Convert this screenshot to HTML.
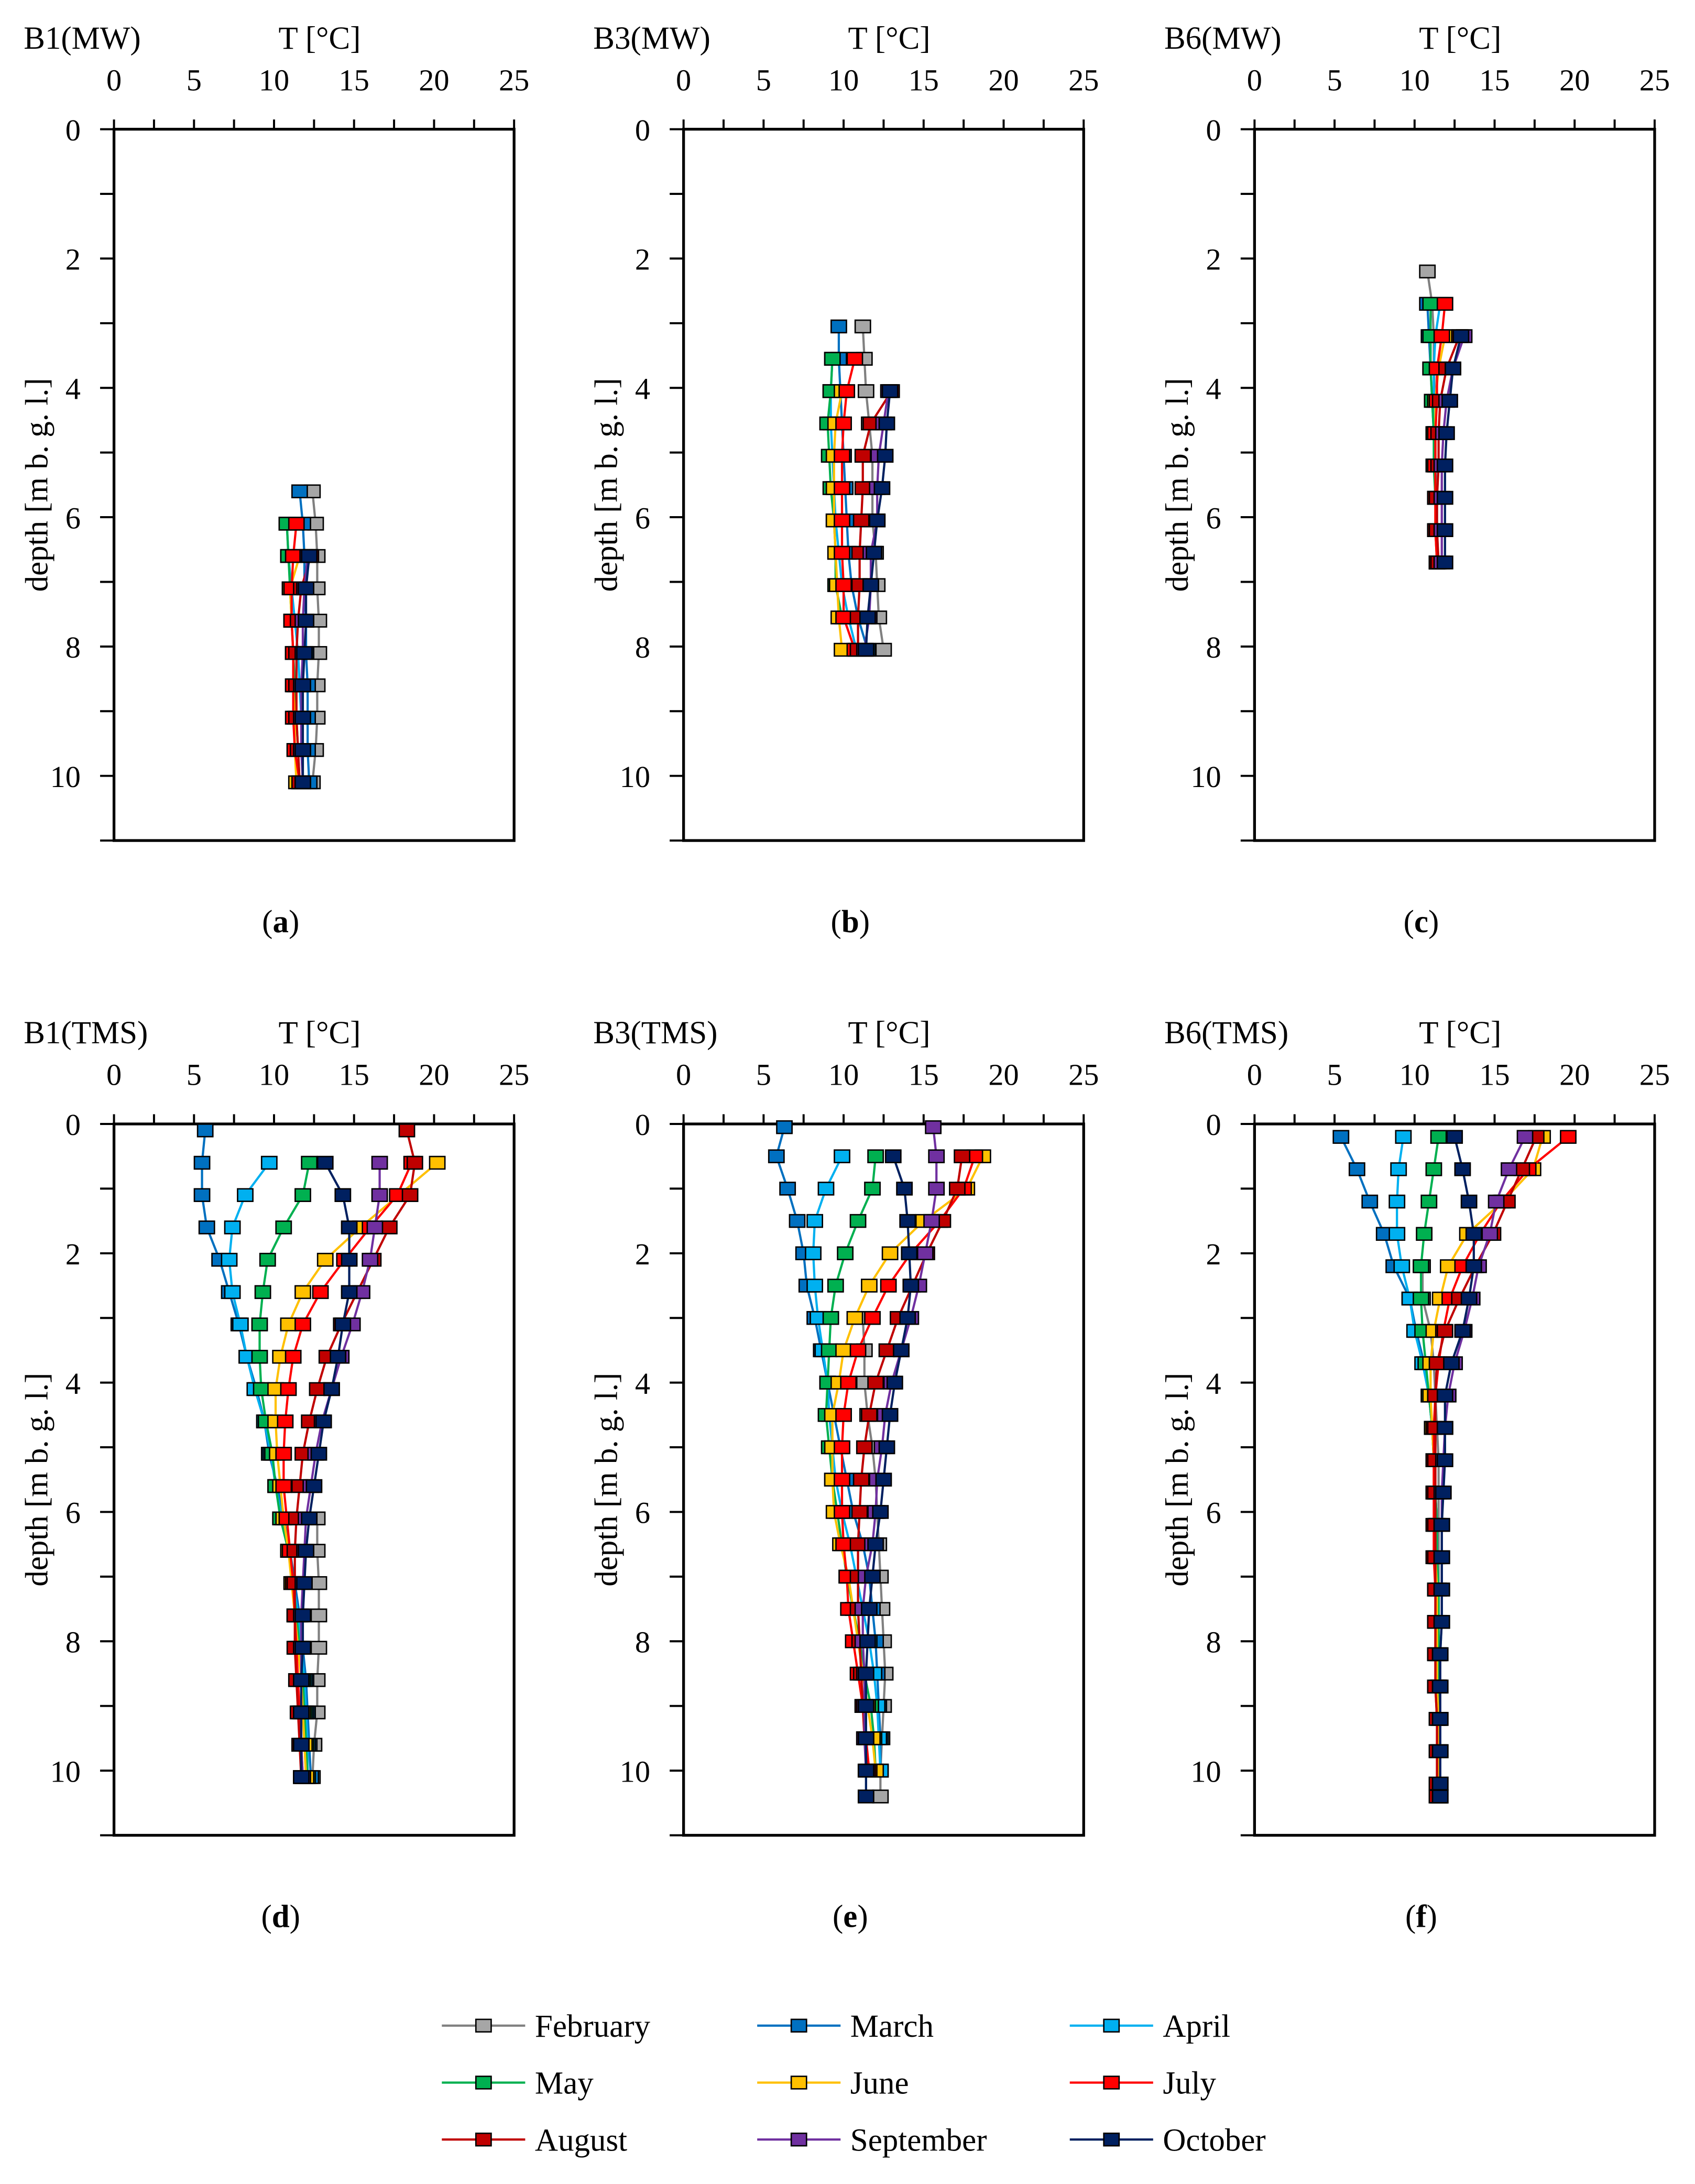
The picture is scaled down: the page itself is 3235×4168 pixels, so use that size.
<!DOCTYPE html>
<html><head><meta charset="utf-8"><style>
html,body{margin:0;padding:0;background:#fff;}
svg{display:block;}
text{font-family:"Liberation Serif",serif;fill:#000;}
</style></head><body>
<svg id="chart" width="3235" height="4168" viewBox="0 0 1220 1572" xmlns="http://www.w3.org/2000/svg"></svg>
<script>
const months = ["February","March","April","May","June","July","August","September","October"];
const lineColors = ["#808080","#0070c0","#00b0f0","#00b050","#ffc000","#ff0000","#c00000","#7030a0","#002060"];
const fillColors = ["#a6a6a6","#0070c0","#00b0f0","#00b050","#ffc000","#ff0000","#c00000","#7030a0","#002060"];
const xTicks = [0,5,10,15,20,25];
const yTicksTop = [0,2,4,6,8,10];
const panelTitles = ["B1(MW)","B3(MW)","B6(MW)","B1(TMS)","B3(TMS)","B6(TMS)"];
const panelCaptions = ["a","b","c","d","e","f"];

// Panel a: B1(MW)
const depthA = [5.6,6.1,6.6,7.1,7.6,8.1,8.6,9.1,9.6,10.1];
const tempA_Feb = [12.4,12.6,12.7,12.7,12.8,12.8,12.7,12.7,12.6,12.4];
const tempA_Mar = [11.6,11.8,11.9,11.9,12.0,12.0,12.1,12.1,12.1,12.2];
const tempA_Apr = [null,10.8,10.9,11.1,11.3,11.5,11.6,11.7,11.8,11.8];
const tempA_May = [null,10.8,10.9,11.0,11.1,11.2,11.3,11.4,11.5,11.6];
const tempA_Jun = [null,null,11.6,11.0,11.1,11.2,11.2,11.3,11.3,11.4];
const tempA_Jul = [null,11.4,11.2,11.1,11.1,11.2,11.2,11.2,11.3,11.6];
const tempA_Aug = [null,null,12.3,11.7,11.5,11.4,11.4,11.4,11.5,11.6];
const tempA_Sep = [null,null,12.1,11.9,11.8,11.8,11.7,11.7,11.7,11.8];
const tempA_Oct = [null,null,12.2,12.0,12.0,11.9,11.8,11.8,11.8,11.8];

// Panel b: B3(MW)
const depthB = [3.05,3.55,4.05,4.55,5.05,5.55,6.05,6.55,7.05,7.55,8.05];
const tempB_Feb = [11.2,11.3,11.4,11.6,11.8,11.8,11.8,12.0,12.1,12.2,12.5];
const tempB_Mar = [9.7,9.7,9.8,9.9,10.0,10.1,10.2,10.3,10.5,10.9,11.5];
const tempB_Apr = [null,9.3,9.2,9.2,9.3,9.4,9.5,9.7,9.9,10.3,10.8];
const tempB_May = [null,9.3,9.2,9.0,9.1,9.2,9.4,9.5,9.5,9.9,null];
const tempB_Jun = [null,null,9.9,9.5,9.4,9.4,9.4,9.5,9.6,9.7,9.9];
const tempB_Jul = [null,10.7,10.2,10.0,9.9,9.9,9.9,9.9,10.0,10.0,10.7];
const tempB_Aug = [null,null,13.0,11.7,11.2,11.2,11.1,11.0,11.0,10.9,10.9];
const tempB_Sep = [null,null,12.8,12.5,12.2,12.1,12.1,11.7,11.7,11.6,11.3];
const tempB_Oct = [null,null,12.9,12.7,12.6,12.4,12.1,11.9,11.7,11.5,11.4];

// Panel c: B6(MW)
const depthC = [2.2,2.7,3.2,3.7,4.2,4.7,5.2,5.7,6.2,6.7];
const tempC_Feb = [10.8,11.1,11.2,11.2,11.3,11.3,11.3,11.4,11.4,11.4];
const tempC_Mar = [null,10.8,10.9,11.0,11.1,11.2,11.3,11.3,11.4,11.4];
const tempC_Apr = [null,11.6,11.3,11.2,11.2,11.3,11.3,11.4,11.4,11.4];
const tempC_May = [null,11.0,11.0,11.0,11.1,11.2,11.2,11.3,11.3,11.4];
const tempC_Jun = [null,null,11.9,11.5,11.3,11.3,11.3,11.3,11.3,11.4];
const tempC_Jul = [null,11.9,11.7,11.4,11.4,11.3,11.3,11.3,11.3,11.4];
const tempC_Aug = [null,null,12.8,12.0,11.6,11.5,11.5,11.4,11.4,11.5];
const tempC_Sep = [null,null,13.1,12.4,12.0,11.8,11.7,11.7,11.7,11.7];
const tempC_Oct = [null,null,12.9,12.4,12.2,12.0,11.9,11.9,11.9,11.9];

// Panel d: B1(TMS)
const depthD = [0.1,0.6,1.1,1.6,2.1,2.6,3.1,3.6,4.1,4.6,5.1,5.6,6.1,6.6,7.1,7.6,8.1,8.6,9.1,9.6,10.1];
const tempD_Feb = [null,null,null,null,null,null,null,null,null,null,null,null,12.7,12.7,12.8,12.8,12.8,12.7,12.7,12.5,12.4];
const tempD_Mar = [5.7,5.5,5.5,5.8,6.6,7.2,7.8,8.3,8.9,9.4,9.7,10.2,10.6,11,11.3,11.6,11.8,12.0,12.1,12.2,12.3];
const tempD_Apr = [null,9.7,8.2,7.4,7.2,7.4,7.9,8.3,8.8,9.4,9.8,10.1,10.5,10.9,11.2,11.5,11.7,11.9,12.0,12.1,12.1];
const tempD_May = [null,12.2,11.8,10.6,9.6,9.3,9.1,9.1,9.2,9.5,9.9,10.1,10.4,10.9,11.2,11.4,11.6,11.8,11.9,12,12.1];
const tempD_Jun = [null,20.2,17.8,15.4,13.2,11.8,10.9,10.4,10.1,10.1,10.2,10.4,10.6,10.9,11.1,11.3,11.5,11.7,11.8,11.9,12.0];
const tempD_Jul = [null,18.6,17.7,16.0,14.4,12.9,11.8,11.2,10.9,10.7,10.6,10.6,10.8,11,11.2,11.3,11.4,11.5,11.6,11.7,11.8];
const tempD_Aug = [18.3,18.8,18.5,17.2,16.2,15.2,14.2,13.3,12.7,12.2,11.8,11.6,11.4,11.3,11.3,11.3,11.3,11.4,11.5,11.6,11.7];
const tempD_Sep = [null,16.6,16.6,16.3,16.0,15.5,14.9,14.2,13.6,13.0,12.6,12.3,12.0,11.9,11.8,11.7,11.7,11.7,11.7,11.7,11.8];
const tempD_Oct = [null,13.2,14.3,14.7,14.7,14.7,14.3,14.0,13.6,13.1,12.8,12.5,12.2,12.0,11.9,11.8,11.8,11.7,11.7,11.7,11.7];

// Panel e: B3(TMS)
const depthE = [0.05,0.5,1.0,1.5,2.0,2.5,3.0,3.5,4.0,4.5,5.0,5.5,6.0,6.5,7.0,7.5,8.0,8.5,9.0,9.5,10.0,10.4];
const tempE_Feb = [null,null,null,null,null,null,11.2,11.3,11.3,11.5,11.8,12.0,12.1,12.2,12.3,12.4,12.5,12.6,12.5,12.4,12.3,12.3];
const tempE_Mar = [6.3,5.8,6.5,7.1,7.5,7.7,8.2,8.6,9.0,9.4,9.8,10.2,10.6,11.2,11.6,11.8,12.0,12.1,12.2,12.3,12.3,null];
const tempE_Apr = [null,9.9,8.9,8.2,8.1,8.2,8.4,8.7,9.0,9.1,9.3,9.5,9.9,10.4,10.8,11.2,11.6,11.9,12.1,12.2,12.3,null];
const tempE_May = [null,12.0,11.8,10.9,10.1,9.5,9.2,9.1,9.0,8.9,9.1,9.3,9.6,9.9,10.2,10.6,11.0,11.3,11.7,11.9,12.0,null];
const tempE_Jun = [null,18.7,17.7,15.0,12.9,11.6,10.7,10.0,9.7,9.3,9.3,9.3,9.4,9.8,10.3,10.6,10.9,11.2,11.5,11.8,12.0,null];
const tempE_Jul = [null,18.2,17.5,16.0,14.2,12.8,11.8,10.9,10.3,10.0,9.9,9.9,9.9,10.0,10.2,10.3,10.6,10.9,11.2,11.4,11.6,null];
const tempE_Aug = [null,17.4,17.1,16.2,15.2,14.3,13.4,12.7,12.0,11.6,11.3,11.1,11.0,10.9,10.9,10.9,11.0,11.1,11.2,11.3,11.5,null];
const tempE_Sep = [15.6,15.8,15.8,15.5,15.1,14.7,14.2,13.6,13.0,12.6,12.4,12.1,12.0,11.8,11.4,11.2,11.2,11.3,11.3,11.3,11.4,null];
const tempE_Oct = [null,13.1,13.8,14.0,14.1,14.2,14.0,13.6,13.2,12.9,12.7,12.5,12.3,12.0,11.8,11.6,11.5,11.4,11.4,11.4,11.4,11.4];

// Panel f: B6(TMS)
const depthF = [0.2,0.7,1.2,1.7,2.2,2.7,3.2,3.7,4.2,4.7,5.2,5.7,6.2,6.7,7.2,7.7,8.2,8.7,9.2,9.7,10.2,10.4];
const tempF_Feb = [null,null,null,null,10.5,10.5,11.0,11.2,11.3,11.4,11.5,11.5,11.5,11.5,11.5,11.5,11.5,11.5,11.5,11.5,11.5,11.5];
const tempF_Mar = [5.4,6.4,7.2,8.1,8.7,9.7,10.1,10.6,10.9,11.1,11.2,11.3,11.4,11.4,11.5,11.5,11.5,11.5,11.6,11.6,11.6,11.6];
const tempF_Apr = [9.3,9.0,8.9,8.9,9.2,9.7,10.0,10.5,10.9,11.1,11.2,11.3,11.4,11.4,11.5,11.5,11.5,11.5,11.6,11.6,11.6,11.6];
const tempF_May = [11.5,11.2,10.9,10.6,10.4,10.4,10.5,10.7,10.9,11.1,11.2,11.3,11.4,11.4,11.5,11.5,11.5,11.5,11.5,11.5,11.5,11.5];
const tempF_Jun = [18.0,17.4,15.5,13.3,12.1,11.6,11.2,11.0,11.0,11.1,11.2,11.2,11.3,11.3,11.4,11.4,11.4,11.4,11.5,11.5,11.5,11.5];
const tempF_Jul = [19.6,17.1,15.4,14.1,13.0,12.2,11.8,11.5,11.3,11.2,11.2,11.2,11.2,11.2,11.3,11.3,11.3,11.3,11.4,11.4,11.4,11.4];
const tempF_Aug = [17.6,16.7,15.8,14.9,13.8,12.8,11.9,11.4,11.3,11.3,11.3,11.3,11.3,11.3,11.3,11.3,11.3,11.3,11.4,11.4,11.4,11.4];
const tempF_Sep = [16.9,15.9,15.1,14.7,14.0,13.6,13.1,12.5,12.1,11.9,11.8,11.7,11.7,11.7,11.7,11.7,11.6,11.6,11.6,11.6,11.6,11.6];
const tempF_Oct = [12.5,13.0,13.4,13.7,13.7,13.4,13.0,12.3,11.9,11.9,11.9,11.8,11.7,11.7,11.7,11.7,11.6,11.6,11.6,11.6,11.6,11.6];

const panelDepths = [depthA,depthB,depthC,depthD,depthE,depthF];
const panelTemps = [
 [tempA_Feb,tempA_Mar,tempA_Apr,tempA_May,tempA_Jun,tempA_Jul,tempA_Aug,tempA_Sep,tempA_Oct],
 [tempB_Feb,tempB_Mar,tempB_Apr,tempB_May,tempB_Jun,tempB_Jul,tempB_Aug,tempB_Sep,tempB_Oct],
 [tempC_Feb,tempC_Mar,tempC_Apr,tempC_May,tempC_Jun,tempC_Jul,tempC_Aug,tempC_Sep,tempC_Oct],
 [tempD_Feb,tempD_Mar,tempD_Apr,tempD_May,tempD_Jun,tempD_Jul,tempD_Aug,tempD_Sep,tempD_Oct],
 [tempE_Feb,tempE_Mar,tempE_Apr,tempE_May,tempE_Jun,tempE_Jul,tempE_Aug,tempE_Sep,tempE_Oct],
 [tempF_Feb,tempF_Mar,tempF_Apr,tempF_May,tempF_Jun,tempF_Jul,tempF_Aug,tempF_Sep,tempF_Oct]
];

const NS = "http://www.w3.org/2000/svg";
const svg = document.getElementById("chart");
function mk(tag, attrs, parent) {
  const e = document.createElementNS(NS, tag);
  for (const k in attrs) e.setAttribute(k, attrs[k]);
  (parent || svg).appendChild(e);
  return e;
}
const PX = [82, 492, 903];
const PY = [93, 809];
const W = 288, H = 512, TMAX = 25, DMAX = 11;

for (let p = 0; p < 6; p++) {
  const x0 = PX[p % 3], y0 = PY[Math.floor(p / 3)];
  const xs = t => x0 + t / TMAX * W;
  const ys = d => y0 + d / DMAX * H;
  const g = mk("g", {});
  
  

  // frame
  const fr = mk("rect", {x: x0, y: y0, width: W, height: H, fill: "none", stroke: "#000", "stroke-width": 2}, g);
  
  

  // x ticks (top)
  for (let t = 0; t <= 25; t += 2.5) {
    const tk = mk("line", {x1: xs(t), x2: xs(t), y1: y0, y2: y0 - 7, stroke: "#000", "stroke-width": 1.5}, g);
    
    
  }
  xTicks.forEach(t => {
    const tl = mk("text", {x: xs(t), y: y0 - 28, "font-size": 22, "text-anchor": "middle"}, g);
    tl.textContent = t;
    
    
  });
  // y ticks
  for (let d = 0; d <= 11; d++) {
    const tk = mk("line", {x1: x0 - 10, x2: x0, y1: ys(d), y2: ys(d), stroke: "#000", "stroke-width": 1.5}, g);
    
    
  }
  yTicksTop.forEach(d => {
    const tl = mk("text", {x: x0 - 24, y: ys(d) + 8, "font-size": 22, "text-anchor": "end"}, g);
    tl.textContent = d;
    
    
  });
  // titles
  const pt = mk("text", {x: x0 - 65, y: y0 - 58, "font-size": 23}, g);
  pt.textContent = panelTitles[p];
  
  
  const xt = mk("text", {x: x0 + 148, y: y0 - 58, "font-size": 23, "text-anchor": "middle"}, g);
  xt.textContent = "T [°C]";
  
  
  const cy = y0 + 256;
  const yt = mk("text", {x: x0 - 48, y: cy, "font-size": 23, "text-anchor": "middle", transform: "rotate(-90 " + (x0 - 48) + " " + cy + ")"}, g);
  yt.textContent = "depth [m b. g. l.]";
  
  
  const cap = mk("text", {x: x0 + 120, y: y0 + 578, "font-size": 23, "text-anchor": "middle"}, g);
  cap.innerHTML = '(<tspan font-weight="bold">' + panelCaptions[p] + '</tspan>)';
  
  

  // series
  const depths = panelDepths[p];
  panelTemps[p].forEach((temps, m) => {
    const sg = mk("g", {}, g);
    
    
    const pts = [];
    temps.forEach((t, i) => { if (t !== null) pts.push([xs(t), ys(depths[i])]); });
    const ln = mk("polyline", {points: pts.map(q => q.join(",")).join(" "), fill: "none", stroke: lineColors[m], "stroke-width": 1.6}, sg);
    
    
    pts.forEach(q => {
      const mr = mk("rect", {x: q[0] - 5.5, y: q[1] - 4.5, width: 11, height: 9, fill: fillColors[m], stroke: "#000", "stroke-width": 1}, sg);
      
      
    });
  });
}

// legend
const lg = mk("g", {});


const LX = [318, 545, 770], LY = [1458, 1499, 1540];
months.forEach((m, i) => {
  const lx = LX[i % 3], ly = LY[Math.floor(i / 3)];
  const eg = mk("g", {}, lg);
  
  
  mk("line", {x1: lx, x2: lx + 60, y1: ly, y2: ly, stroke: lineColors[i], "stroke-width": 1.6}, eg);
  mk("rect", {x: lx + 24.5, y: ly - 4.5, width: 11, height: 9, fill: fillColors[i], stroke: "#000", "stroke-width": 1}, eg);
  const t = mk("text", {x: lx + 67, y: ly + 8, "font-size": 23}, eg);
  t.textContent = m;
});
</script>
</body></html>
